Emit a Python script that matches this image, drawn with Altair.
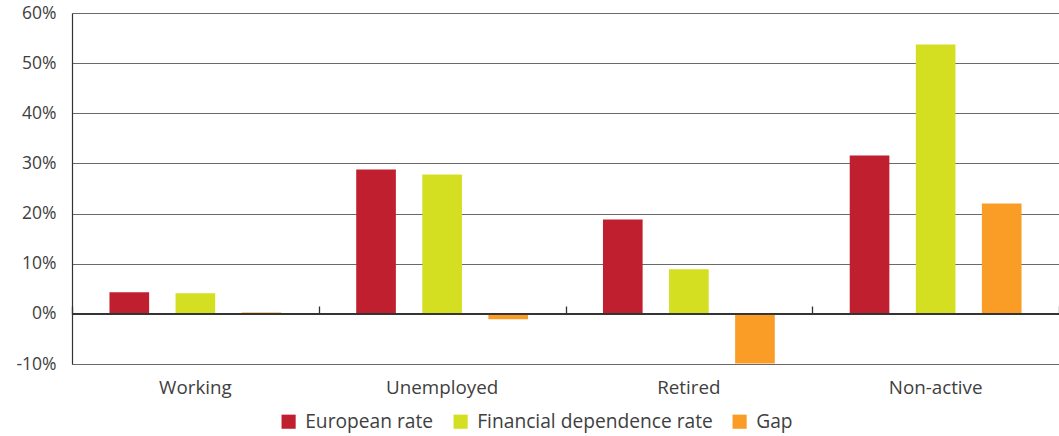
import altair as alt
import pandas as pd

categories = ["Working", "Unemployed", "Retired", "Non-active"]
series = ["European rate", "Financial dependence rate", "Gap"]
european = [4.3, 28.8, 18.8, 31.6]
financial = [4.1, 27.8, 8.9, 53.7]
gap = [0.25, -1.1, -9.9, 22.0]
colors = ["#C01F30", "#D5DF22", "#F99D27"]
y_ticks = [-10, 0, 10, 20, 30, 40, 50, 60]

rows = []
for s, vals in zip(series, [european, financial, gap]):
    for c, v in zip(categories, vals):
        rows.append({"category": c, "series": s, "value": v})
df = pd.DataFrame(rows)
cat_df = pd.DataFrame({"category": categories})

FONT = "Open Sans"
TXT = "#404040"
x_scale = alt.Scale(domain=categories, paddingInner=0, paddingOuter=0)
y_scale = alt.Scale(domain=[-10, 60], nice=False, zero=False)

bars = alt.Chart(df).mark_bar().encode(
    x=alt.X("category:N", scale=x_scale, title=None,
            axis=alt.Axis(orient="bottom", labelAngle=0, ticks=False, domain=True,
                          domainColor="#6a6a6a", domainWidth=1.2,
                          labelFontSize=18.8, labelColor=TXT, labelFont=FONT,
                          labelPadding=14)),
    xOffset=alt.XOffset("series:N", sort=series,
                        scale=alt.Scale(paddingInner=0.4, paddingOuter=0.567)),
    y=alt.Y("value:Q", scale=y_scale, title=None,
            axis=alt.Axis(values=y_ticks, labelExpr="datum.value + '%'",
                          grid=True, gridColor="#6a6a6a", gridWidth=1.2,
                          domain=True, domainColor="#333333", domainWidth=1.2,
                          ticks=False, labelPadding=16, labelFontSize=17.5,
                          labelColor=TXT, labelFont=FONT)),
    color=alt.Color("series:N", sort=series,
                    scale=alt.Scale(domain=series, range=colors),
                    legend=alt.Legend(title=None, orient="none", direction="horizontal",
                                      legendX=207, legendY=399,
                                      symbolType="square", symbolSize=200,
                                      symbolStrokeWidth=0, symbolOpacity=1,
                                      labelFontSize=19.2, labelColor=TXT,
                                      labelFont=FONT, labelOffset=7, labelLimit=0,
                                      columnPadding=17)),
)

zero = alt.Chart(cat_df).mark_rule(color="#333333", strokeWidth=1.3).encode(
    y=alt.datum(0, scale=y_scale),
)

ticks = alt.Chart(cat_df).mark_point(opacity=0).encode(
    x=alt.X("category:N", scale=x_scale, title=None,
            axis=alt.Axis(orient="top", offset=-301, labels=False, domain=False,
                          ticks=True, tickBand="extent", tickSize=8,
                          tickColor="#333333", tickWidth=1.3)),
    y=alt.datum(0, scale=y_scale),
)

chart = alt.layer(bars, zero, ticks).resolve_axis(x="independent").properties(
    width=987, height=351,
    autosize=alt.AutoSizeParams(type="none"),
    padding={"left": 72, "top": 13, "right": 0, "bottom": 72},
).configure_view(stroke=None).configure(background="white")

chart.save("out.html", embed_options={"renderer": "svg", "actions": False})
